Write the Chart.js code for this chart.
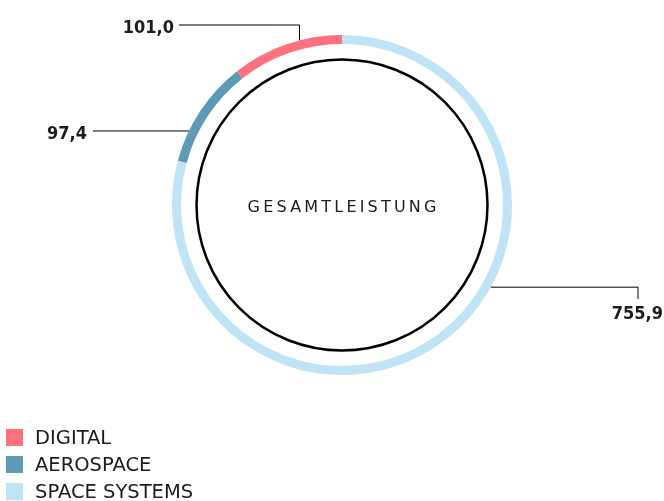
<!DOCTYPE html>
<html>
<head>
<meta charset="utf-8">
<script src="https://cdn.jsdelivr.net/npm/chart.js@4.4.0/dist/chart.umd.min.js"></script>
<style>
    body { margin: 0; background: #fff; }
    #wrap { position: relative; width: 664px; height: 501px; overflow: hidden; }
    #legend {
        position: absolute; left: 6px; top: 424px;
        font-family: "DejaVu Sans", sans-serif;
        font-size: 19.5px; color: #1d1d1b;
    }
    #legend .item { height: 27px; display: flex; align-items: center; }
    #legend .box { width: 17px; height: 17px; margin-right: 12px; }
</style>
</head>
<body>
<div id="wrap">
    <canvas id="RingChart" width="664" height="501"></canvas>
    <div id="legend"></div>
</div>
<script>
const categories = ['DIGITAL', 'AEROSPACE', 'SPACE SYSTEMS'];
const values = [101.0, 97.4, 755.9];
const colors = ['#ff717e', '#5c9ab6', '#bfe4f5'];
const centerLabel = 'GESAMTLEISTUNG';

const labelFont = '"DejaVu Sans Condensed", "DejaVu Sans", sans-serif';

// where each callout leaves the ring (fraction of the slice) and where its text goes
const callouts = [
    { frac: 0.62, elbow: 'up', lineY: 25, lineEnd: 179, textX: 174, textY: 33 },
    { frac: 0.29, elbow: 'none', lineEnd: 93, textX: 87, textY: 139 },
    { frac: 0.417, elbow: 'down', lineEnd: 638, dropTo: 299, textX: 663, textY: 319 }
];

function formatValue(v) {
    return v.toLocaleString('de-DE', { minimumFractionDigits: 1, maximumFractionDigits: 1 });
}

// the ring runs clockwise from the top, space systems first
const ringLabels = categories.slice().reverse();
const ringValues = values.slice().reverse();
const ringColors = colors.slice().reverse();

const ringDecor = {
    id: 'ringDecor',
    afterDatasetsDraw(chart) {
        const ctx = chart.ctx;
        const meta = chart.getDatasetMeta(0);
        const first = meta.data[0];
        const cx = first.x, cy = first.y;
        const outer = first.outerRadius;

        // inner black circle
        ctx.save();
        ctx.beginPath();
        ctx.arc(cx, cy, first.innerRadius - 15.5, 0, Math.PI * 2);
        ctx.lineWidth = 2.5;
        ctx.strokeStyle = '#000';
        ctx.stroke();

        // center text
        ctx.fillStyle = '#1d1d1b';
        ctx.font = '16px "DejaVu Sans", sans-serif';
        ctx.letterSpacing = '3.2px';
        ctx.textAlign = 'center';
        ctx.textBaseline = 'alphabetic';
        ctx.fillText(centerLabel, cx + 1.6, cy + 7);
        ctx.letterSpacing = '0px';

        // callouts
        ctx.lineWidth = 1;
        ctx.strokeStyle = '#000';
        ctx.font = 'bold 18px ' + labelFont;
        ctx.textAlign = 'right';
        categories.forEach((cat, i) => {
            const arc = meta.data[categories.length - 1 - i];
            const c = callouts[i];
            const a = arc.startAngle + c.frac * (arc.endAngle - arc.startAngle);
            const ax = cx + outer * Math.cos(a);
            const ay = cy + outer * Math.sin(a);
            ctx.beginPath();
            ctx.moveTo(ax, ay);
            if (c.elbow === 'up') {
                ctx.lineTo(ax, c.lineY);
                ctx.lineTo(c.lineEnd, c.lineY);
            } else if (c.elbow === 'down') {
                ctx.lineTo(c.lineEnd, ay);
                ctx.lineTo(c.lineEnd, c.dropTo);
            } else {
                ctx.lineTo(c.lineEnd, ay);
            }
            ctx.stroke();
            ctx.fillText(formatValue(values[i]), c.textX, c.textY);
        });
        ctx.restore();
    }
};

const ctx = document.getElementById('RingChart');
new Chart(ctx, {
    type: 'doughnut',
    data: {
        labels: ringLabels,
        datasets: [{
            data: ringValues,
            backgroundColor: ringColors,
            borderWidth: 0,
            hoverOffset: 0,
            offset: 0
        }]
    },
    options: {
        responsive: false,
        animation: false,
        events: [],
        cutout: 161,
        rotation: 0,
        layout: {
            padding: { top: 35, bottom: 126, left: 172, right: 152 }
        },
        plugins: {
            legend: { display: false },
            tooltip: { enabled: false }
        }
    },
    plugins: [ringDecor]
});

let legendHtml = '';
categories.forEach((cat, i) => {
    legendHtml += `<div class="item"><span class="box" style="background:${colors[i]}"></span>${cat}</div>`;
});
document.getElementById('legend').innerHTML = legendHtml;
</script>
</body>
</html>
